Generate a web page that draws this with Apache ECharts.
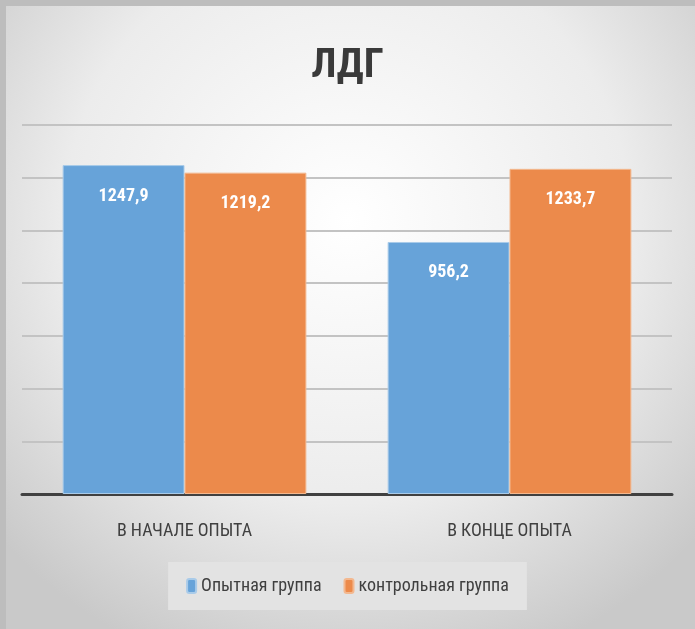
<!DOCTYPE html>
<html><head><meta charset="utf-8">
<script src="https://cdn.jsdelivr.net/npm/echarts@6/dist/echarts.min.js"></script>
<style>html,body{margin:0;padding:0;}#c{width:695px;height:629px;}</style>
</head><body><div id="c"></div>
<script>
const categories = ['В НАЧАЛЕ ОПЫТА', 'В КОНЦЕ ОПЫТА'];
const seriesNames = ['Опытная группа', 'контрольная группа'];
const experimental = [1247.9, 956.2];
const control = [1219.2, 1233.7];
const FONT = '"Liberation Sans Narrow", "Roboto Condensed", "DejaVu Sans Condensed", sans-serif';

const chart = echarts.init(document.getElementById('c'));
const fmt = p => String(p.value).replace('.', ',');
chart.setOption({
  backgroundColor: new echarts.graphic.RadialGradient(0.5, 0.35, 0.75, [
    {offset: 0, color: '#ffffff'},
    {offset: 0.6, color: '#ececec'},
    {offset: 1, color: '#c9c9c9'}
  ]),
  animation: false,
  graphic: [{
    type: 'rect', left: 0, top: 0, silent: true,
    shape: {width: 695, height: 629},
    style: {fill: 'none', stroke: '#bdbdbd', lineWidth: 6}
  }],
  title: {
    text: 'ЛДГ', left: 'center', top: 41,
    textStyle: {fontFamily: FONT, fontSize: 41, fontWeight: 'bold', color: '#3a3a3a'}
  },
  legend: {
    bottom: 19, left: 'center',
    data: seriesNames,
    itemWidth: 9, itemHeight: 14, itemGap: 22,
    padding: [15, 18, 15, 18],
    backgroundColor: '#e3e3e3',
    textStyle: {fontFamily: FONT, fontSize: 18, color: '#404040'}
  },
  grid: {left: 22, right: 23, top: 125, bottom: 135, containLabel: false},
  xAxis: {
    type: 'category', data: categories,
    axisLine: {lineStyle: {color: '#404040', width: 3}},
    axisTick: {show: false},
    axisLabel: {fontFamily: FONT, fontSize: 18, color: '#404040', margin: 28}
  },
  yAxis: {
    type: 'value', min: 0, max: 1400, interval: 200,
    axisLabel: {show: false}, axisLine: {show: false}, axisTick: {show: false},
    splitLine: {lineStyle: {color: '#c3c3c3', width: 2}}
  },
  series: [
    {name: seriesNames[0], type: 'bar', data: experimental, barWidth: '37.5%', barGap: '0%',
     itemStyle: {color: '#67a3d9', borderColor: '#a9cbe9', borderWidth: 1},
     label: {show: true, position: 'insideTop', distance: 22, formatter: fmt,
       fontFamily: FONT, fontSize: 18, fontWeight: 'bold', color: '#ffffff'}},
    {name: seriesNames[1], type: 'bar', data: control, barWidth: '37.5%', barGap: '0%',
     itemStyle: {color: '#ec8a4b', borderColor: '#f3b88f', borderWidth: 1},
     label: {show: true, position: 'insideTop', distance: 22, formatter: fmt,
       fontFamily: FONT, fontSize: 18, fontWeight: 'bold', color: '#ffffff'}}
  ]
});
</script></body></html>
